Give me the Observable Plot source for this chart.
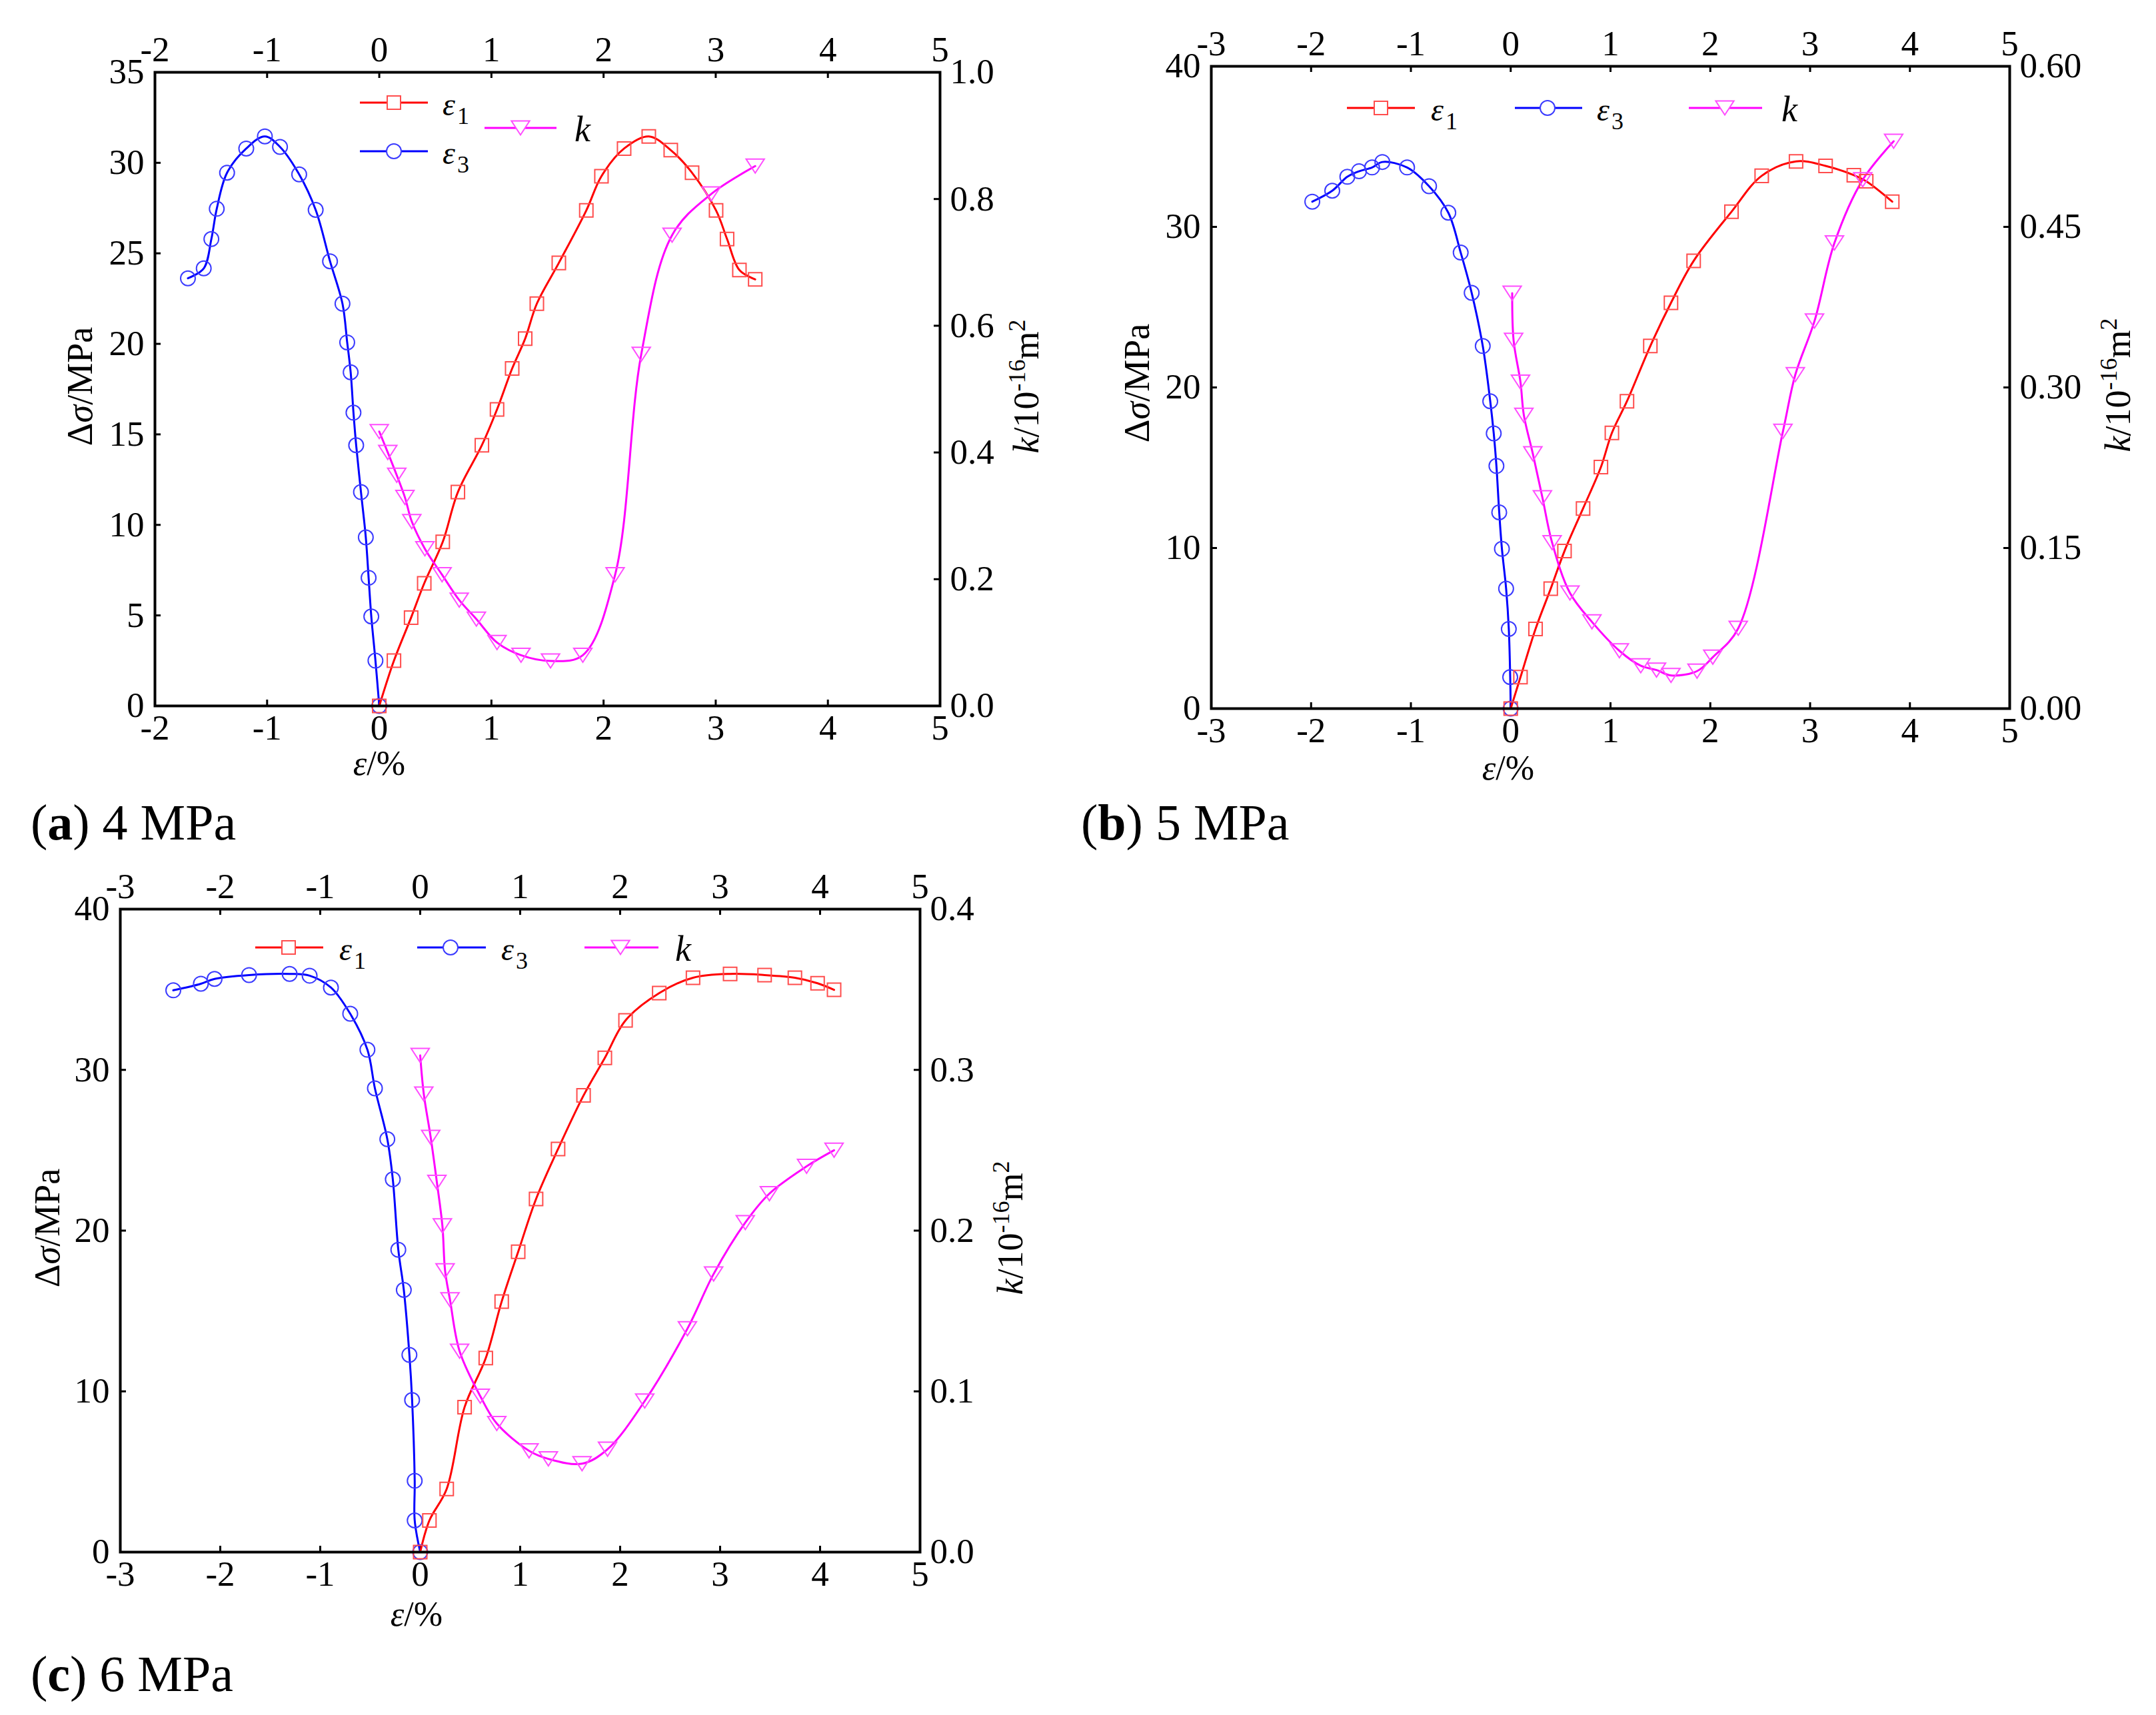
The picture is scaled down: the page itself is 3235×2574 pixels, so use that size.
<!DOCTYPE html>
<html><head><meta charset="utf-8">
<script src="https://cdn.jsdelivr.net/npm/d3@7"></script>
<script src="https://cdn.jsdelivr.net/npm/@observablehq/plot@0.6"></script>
<style>
html,body{margin:0;padding:0;background:#fff;}
#page{position:relative;width:3235px;height:2574px;overflow:hidden;font-family:"Liberation Serif",serif;}
.panel{position:absolute;}
.panel svg, .panel svg text{font-family:"Liberation Serif",serif !important;}
#overlay{position:absolute;left:0;top:0;pointer-events:none;}
#overlay text{font-family:"Liberation Serif",serif;}
</style></head><body><div id="page"></div>
<script>
// ---------- data: panel (a) 4 MPa ----------
const aE3x = [-1.706,-1.565,-1.497,-1.449,-1.357,-1.186,-1.020,-0.885,-0.714,-0.567,-0.439,-0.328,-0.286,-0.255,-0.230,-0.206,-0.163,-0.120,-0.095,-0.071,-0.034,0];
const aE3y = [23.62,24.17,25.79,27.46,29.45,30.79,31.46,30.88,29.36,27.40,24.56,22.22,20.08,18.43,16.20,14.40,11.81,9.31,7.08,4.94,2.50,0];
const aE1x = [0,0.131,0.284,0.401,0.566,0.701,0.915,1.050,1.185,1.301,1.405,1.601,1.846,1.981,2.183,2.403,2.599,2.789,3.003,3.101,3.211,3.352];
const aE1y = [0,2.50,4.88,6.77,9.06,11.81,14.40,16.38,18.64,20.29,22.22,24.47,27.37,29.26,30.79,31.46,30.70,29.45,27.37,25.79,24.08,23.56];
const aKx = [0,0.076,0.156,0.229,0.290,0.407,0.560,0.713,0.866,1.050,1.264,1.527,1.815,2.103,2.336,2.611,2.960,3.352];
const aKy = [0.433,0.400,0.364,0.329,0.291,0.248,0.207,0.167,0.137,0.100,0.080,0.071,0.080,0.207,0.555,0.743,0.808,0.852];
// ---------- data: panel (b) 5 MPa ----------
const bE3x = [-1.988,-1.788,-1.637,-1.520,-1.389,-1.286,-1.038,-0.818,-0.625,-0.501,-0.391,-0.280,-0.205,-0.170,-0.143,-0.115,-0.088,-0.046,-0.019,-0.005,0];
const bE3y = [31.57,32.25,33.12,33.46,33.70,34.04,33.70,32.53,30.88,28.40,25.89,22.58,19.14,17.14,15.11,12.22,9.95,7.47,4.96,1.96,0];
const bE1x = [0,0.098,0.249,0.401,0.539,0.725,0.904,1.014,1.165,1.399,1.606,1.833,2.212,2.515,2.859,3.155,3.438,3.562,3.823];
const bE1y = [0,1.96,4.96,7.47,9.81,12.46,15.04,17.17,19.14,22.58,25.27,27.88,30.94,33.18,34.08,33.80,33.22,32.84,31.57];
const bKx = [0.015,0.029,0.098,0.132,0.222,0.318,0.415,0.594,0.814,1.089,1.303,1.461,1.606,1.867,2.025,2.280,2.728,2.852,3.044,3.244,3.527,3.837];
const bKy = [0.388,0.344,0.305,0.274,0.238,0.197,0.155,0.108,0.081,0.054,0.040,0.036,0.031,0.035,0.048,0.075,0.259,0.312,0.362,0.435,0.494,0.530];
// ---------- data: panel (c) 6 MPa ----------
const cE3x = [-2.470,-2.194,-2.057,-1.712,-1.306,-1.106,-0.893,-0.700,-0.528,-0.453,-0.329,-0.274,-0.219,-0.164,-0.108,-0.081,-0.055,-0.055,0];
const cE3y = [34.95,35.36,35.66,35.90,35.97,35.86,35.12,33.49,31.25,28.85,25.69,23.19,18.81,16.31,12.27,9.46,4.44,1.97,0];
const cE1x = [0,0.092,0.265,0.444,0.656,0.815,0.980,1.159,1.379,1.634,1.847,2.054,2.391,2.729,3.100,3.445,3.748,3.975,4.140];
const cE1y = [0,1.97,3.93,9.02,12.07,15.59,18.68,21.97,25.08,28.41,30.75,33.08,34.78,35.73,35.97,35.90,35.73,35.39,34.98];
const cKx = [0,0.036,0.105,0.167,0.222,0.249,0.298,0.394,0.601,0.766,1.089,1.282,1.619,1.874,2.246,2.673,2.935,3.252,3.493,3.865,4.140];
const cKy = [0.309,0.285,0.258,0.230,0.203,0.175,0.157,0.125,0.097,0.080,0.063,0.058,0.055,0.064,0.094,0.139,0.173,0.205,0.223,0.240,0.250];
// ---------- tick values ----------
const aXTicks = [-2,-1,0,1,2,3,4,5];
const aYTicks = [0,5,10,15,20,25,30,35];
const aKTicks = [0,0.2,0.4,0.6,0.8,1.0];
const bXTicks = [-3,-2,-1,0,1,2,3,4,5];
const bYTicks = [0,10,20,30,40];
const bKTicks = [0,0.15,0.30,0.45,0.60];
const cXTicks = [-3,-2,-1,0,1,2,3,4,5];
const cYTicks = [0,10,20,30,40];
const cKTicks = [0,0.1,0.2,0.3,0.4];

const FONT = "Liberation Serif";
const RED = "#ff0000", BLUE = "#0000ff", MAG = "#ff00ff";
const RED_M = "#ff4d4d", BLUE_M = "#3b3bff", MAG_M = "#ff4dff";

const triDown = { draw(ctx, size) { const s = Math.sqrt(size); const w = 0.70*s, h = 0.54*s;
  ctx.moveTo(-w,-h); ctx.lineTo(w,-h); ctx.lineTo(0,h); ctx.closePath(); } };

const page = document.getElementById("page");

function panel(cfg) {
  const fw = cfg.width - cfg.ml - cfg.mr, fh = cfg.height - cfg.mt - cfg.mb;
  const f = cfg.yMax / cfg.kMax;
  const rows = (xs, ys, s) => xs.map((x, i) => ({x, y: ys[i] * s}));
  const e1 = rows(cfg.e1x, cfg.e1y, 1), e3 = rows(cfg.e3x, cfg.e3y, 1), kk = rows(cfg.kx, cfg.ky, f);
  const kT = cfg.kTicks.map(v => v * f);
  const tl = 9;
  const ax = {tickSize: 0, fontSize: 53, fontFamily: FONT, label: null};
  const svg = Plot.plot({
    width: cfg.width, height: cfg.height,
    marginLeft: cfg.ml, marginRight: cfg.mr, marginTop: cfg.mt, marginBottom: cfg.mb,
    x: {domain: cfg.xDomain}, y: {domain: [0, cfg.yMax]},
    style: {fontFamily: FONT, fontSize: "53px", color: "#000", background: "transparent", overflow: "visible"},
    marks: [
      Plot.axisX(cfg.xTicks, {...ax, anchor: "bottom", tickPadding: 13, tickFormat: d => String(d)}),
      Plot.axisX(cfg.xTicks, {...ax, anchor: "top", tickPadding: 17, tickFormat: d => String(d)}),
      Plot.axisY(cfg.yTicks, {...ax, anchor: "left", tickPadding: 16, tickFormat: d => String(d)}),
      Plot.axisY(kT, {...ax, anchor: "right", tickPadding: 15, tickFormat: d => cfg.kFmt(d / f)}),
      Plot.tickX(cfg.xTicks, {x: d => d, insetTop: fh - tl, strokeWidth: 3}),
      Plot.tickX(cfg.xTicks, {x: d => d, insetBottom: fh - tl, strokeWidth: 3}),
      Plot.tickY(cfg.yTicks, {y: d => d, insetRight: fw - tl, strokeWidth: 3}),
      Plot.tickY(kT, {y: d => d, insetLeft: fw - tl, strokeWidth: 3}),
      Plot.line(e3, {x: "x", y: "y", stroke: BLUE, strokeWidth: 3, curve: "catmull-rom"}),
      Plot.line(e1, {x: "x", y: "y", stroke: RED, strokeWidth: 3, curve: "catmull-rom"}),
      Plot.line(kk, {x: "x", y: "y", stroke: MAG, strokeWidth: 3, curve: "catmull-rom"}),
      Plot.dot(e3, {x: "x", y: "y", symbol: "circle", r: 11, stroke: BLUE_M, strokeWidth: 2, fill: "none"}),
      Plot.dot(e1, {x: "x", y: "y", symbol: "square", r: 11.3, stroke: RED_M, strokeWidth: 2, fill: "none"}),
      Plot.dot(kk, {x: "x", y: "y", symbol: triDown, r: 11, stroke: MAG_M, strokeWidth: 2, fill: "none"}),
      Plot.frame({strokeWidth: 4})
    ]
  });
  d3.select(svg).attr("font-family", FONT).style("font-family", FONT);
  d3.select(svg).selectAll("g[aria-label$='tick label'], g[aria-label$='tick label'] text").attr("font-family", FONT);
  const div = document.createElement("div");
  div.className = "panel";
  div.style.left = cfg.left + "px"; div.style.top = cfg.top + "px";
  div.appendChild(svg);
  page.appendChild(div);
}

panel({left: 0, top: 0, width: 1620, height: 1200, ml: 232, mr: 210, mt: 108, mb: 141,
  xDomain: [-2, 5], yMax: 35, kMax: 1.0, xTicks: aXTicks, yTicks: aYTicks, kTicks: aKTicks, kFmt: d3.format(".1f"),
  e1x: aE1x, e1y: aE1y, e3x: aE3x, e3y: aE3y, kx: aKx, ky: aKy});
panel({left: 1620, top: 0, width: 1615, height: 1200, ml: 197, mr: 220, mt: 99, mb: 137,
  xDomain: [-3, 5], yMax: 40, kMax: 0.6, xTicks: bXTicks, yTicks: bYTicks, kTicks: bKTicks, kFmt: d3.format(".2f"),
  e1x: bE1x, e1y: bE1y, e3x: bE3x, e3y: bE3y, kx: bKx, ky: bKy});
panel({left: 0, top: 1290, width: 1620, height: 1150, ml: 180, mr: 240, mt: 74, mb: 111,
  xDomain: [-3, 5], yMax: 40, kMax: 0.4, xTicks: cXTicks, yTicks: cYTicks, kTicks: cKTicks, kFmt: d3.format(".1f"),
  e1x: cE1x, e1y: cE1y, e3x: cE3x, e3y: cE3y, kx: cKx, ky: cKy});

// ---------- overlay: axis titles, legends, captions ----------
const ov = d3.select(page).append("svg").attr("id", "overlay")
  .attr("width", 3235).attr("height", 2574).attr("font-family", FONT);

function leftTitle(cx, cy) {
  const t = ov.append("text").attr("transform", `translate(${cx},${cy}) rotate(-90)`)
    .attr("text-anchor", "middle").attr("dy", "0.35em").attr("font-size", 54);
  t.append("tspan").text("Δ");
  t.append("tspan").attr("font-style", "italic").text("σ");
  t.append("tspan").text("/MPa");
}
function rightTitle(cx, cy) {
  const t = ov.append("text").attr("transform", `translate(${cx},${cy}) rotate(-90)`)
    .attr("text-anchor", "middle").attr("y", 18).attr("font-size", 54);
  t.append("tspan").attr("font-style", "italic").text("k");
  t.append("tspan").text("/10");
  t.append("tspan").attr("font-size", 36).attr("dy", -20).text("-16");
  t.append("tspan").attr("font-size", 54).attr("dy", 20).text("m");
  t.append("tspan").attr("font-size", 36).attr("dy", -20).text("2");
}
function xTitle(cx, by) {
  const t = ov.append("text").attr("x", cx).attr("y", by).attr("text-anchor", "middle").attr("font-size", 52);
  t.append("tspan").attr("font-style", "italic").text("ε");
  t.append("tspan").text("/%");
}
function legendItem(x1, x2, y, mx, type, size, lineColor, markColor, tx, main, sub, italicSize) {
  ov.append("line").attr("x1", x1).attr("x2", x2).attr("y1", y).attr("y2", y)
    .attr("stroke", lineColor).attr("stroke-width", 3);
  ov.append("path").attr("transform", `translate(${mx},${y})`)
    .attr("d", d3.symbol().type(type).size(size)())
    .attr("fill", "white").attr("stroke", markColor).attr("stroke-width", 2);
  const t = ov.append("text").attr("x", tx).attr("y", y + (sub ? 19 : 20)).attr("font-size", italicSize);
  t.append("tspan").attr("font-style", "italic").text(main);
  if (sub) t.append("tspan").attr("font-size", 36).attr("dy", 13).attr("dx", 3).text(sub);
}
const SQ = 400, CI = Math.PI * 121, TR = Math.PI * 121;

// panel (a)
leftTitle(119, 580); rightTitle(1540, 580); xTitle(569, 1163);
legendItem(540, 642, 154, 591, d3.symbolSquare, SQ, RED, RED_M, 664, "ε", "1", 48);
legendItem(540, 642, 227, 591, d3.symbolCircle, CI, BLUE, BLUE_M, 664, "ε", "3", 48);
legendItem(727, 835, 192, 781, triDown, TR, MAG, MAG_M, 862, "k", null, 54);
// panel (b)
leftTitle(1705, 575); rightTitle(3178, 578); xTitle(2263, 1170);
legendItem(2021, 2123, 162, 2072, d3.symbolSquare, SQ, RED, RED_M, 2147, "ε", "1", 48);
legendItem(2273, 2374, 162, 2322, d3.symbolCircle, CI, BLUE, BLUE_M, 2396, "ε", "3", 48);
legendItem(2534, 2644, 162, 2588, triDown, TR, MAG, MAG_M, 2673, "k", null, 54);
// panel (c)
leftTitle(70, 1843); rightTitle(1516, 1843); xTitle(625, 2440);
legendItem(383, 485, 1422, 433, d3.symbolSquare, SQ, RED, RED_M, 509, "ε", "1", 48);
legendItem(626, 729, 1422, 676, d3.symbolCircle, CI, BLUE, BLUE_M, 752, "ε", "3", 48);
legendItem(877, 988, 1422, 931, triDown, TR, MAG, MAG_M, 1013, "k", null, 54);

function caption(x, y, letter, rest) {
  const t = ov.append("text").attr("x", x).attr("y", y).attr("font-size", 76);
  t.append("tspan").text("(");
  t.append("tspan").attr("font-weight", "bold").text(letter);
  t.append("tspan").text(") " + rest);
}
caption(46, 1260, "a", "4 MPa");
caption(1622, 1260, "b", "5 MPa");
caption(46, 2538, "c", "6 MPa");
</script></body></html>
